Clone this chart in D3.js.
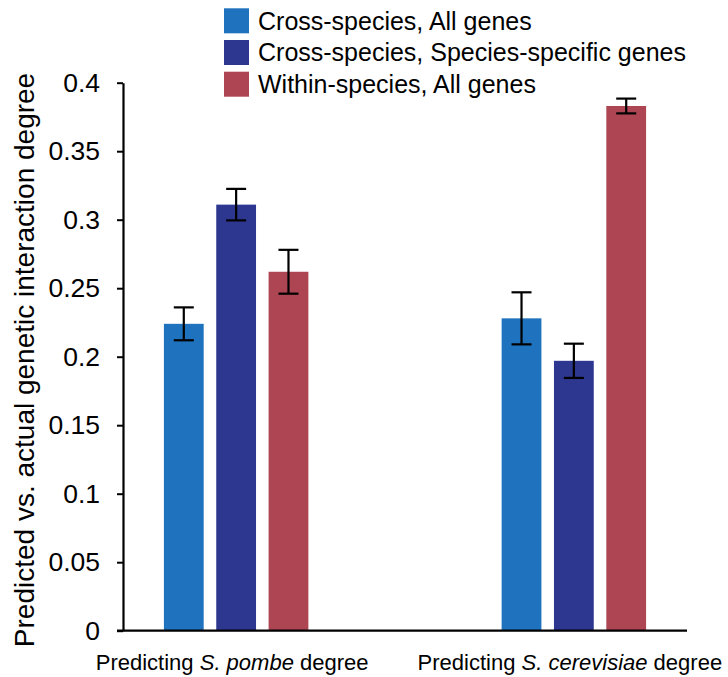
<!DOCTYPE html>
<html>
<head>
<meta charset="utf-8">
<script src="https://cdn.jsdelivr.net/npm/d3@7/dist/d3.min.js"></script>
<style>
  html, body { margin: 0; padding: 0; background: #ffffff; }
  svg { display: block; font-family: "Liberation Sans", Arial, sans-serif; }
</style>
</head>
<body>
<svg id="chart" width="728" height="677"></svg>
<script>
// Groups along the x axis and their label pieces (middle piece is italic)
const categories = ["pombe", "cerevisiae"];
const categoryLabels = [
  ["Predicting ", "S. pombe", " degree"],
  ["Predicting ", "S. cerevisiae", " degree"]
];

// Series names, shown in the legend
const seriesNames = [
  "Cross-species, All genes",
  "Cross-species, Species-specific genes",
  "Within-species, All genes"
];
const seriesColors = ["#1f72bd", "#2d3790", "#ae4553"];

// Mean values per series, one per group
const crossAllValues      = [0.224, 0.228];
const crossSpecificValues = [0.311, 0.197];
const withinValues        = [0.262, 0.383];

// Error bar half-widths per series
const crossAllErrors      = [0.012, 0.019];
const crossSpecificErrors = [0.0115, 0.0125];
const withinErrors        = [0.016, 0.0054];

// Y axis ticks
const yTickValues = [0, 0.05, 0.1, 0.15, 0.2, 0.25, 0.3, 0.35, 0.4];
const yTickLabels = ["0", "0.05", "0.1", "0.15", "0.2", "0.25", "0.3", "0.35", "0.4"];

const seriesValues = [crossAllValues, crossSpecificValues, withinValues];
const seriesErrors = [crossAllErrors, crossSpecificErrors, withinErrors];

const rows = [];
categories.forEach((c, ci) => {
  seriesNames.forEach((s, si) => {
    rows.push({ category: c, series: s, value: seriesValues[si][ci], err: seriesErrors[si][ci], color: seriesColors[si] });
  });
});

const svg = d3.select("#chart");

const y = d3.scaleLinear().domain([0, 0.4]).range([630.7, 82.7]);

const x0 = d3.scaleBand()
  .domain(categories)
  .range([123, 687])
  .paddingInner(0.5)
  .paddingOuter(0.085);

const x1 = d3.scaleBand()
  .domain(seriesNames)
  .range([0, x0.bandwidth()])
  .paddingInner(0.24)
  .paddingOuter(0.233);

// Bars
svg.append("g")
  .selectAll("rect")
  .data(rows)
  .join("rect")
  .attr("x", d => x0(d.category) + x1(d.series))
  .attr("y", d => y(d.value))
  .attr("width", x1.bandwidth())
  .attr("height", d => y(0) - y(d.value))
  .attr("fill", d => d.color);

// Error bars
const eb = svg.append("g")
  .attr("stroke", "#000")
  .attr("stroke-width", 2.2)
  .selectAll("g")
  .data(rows)
  .join("g")
  .attr("transform", d => `translate(${x0(d.category) + x1(d.series) + x1.bandwidth() / 2},0)`);
const capHalf = 10;
eb.append("line")
  .attr("x1", 0).attr("x2", 0)
  .attr("y1", d => y(d.value + d.err))
  .attr("y2", d => y(d.value - d.err));
eb.append("line")
  .attr("x1", -capHalf).attr("x2", capHalf)
  .attr("y1", d => y(d.value + d.err)).attr("y2", d => y(d.value + d.err));
eb.append("line")
  .attr("x1", -capHalf).attr("x2", capHalf)
  .attr("y1", d => y(d.value - d.err)).attr("y2", d => y(d.value - d.err));

// Y axis
const yAxis = svg.append("g")
  .attr("transform", "translate(123,0)")
  .call(d3.axisLeft(y)
    .tickValues(yTickValues)
    .tickFormat((d, i) => yTickLabels[i])
    .tickSize(6)
    .tickSizeOuter(0)
    .tickPadding(17));
yAxis.attr("font-size", null).attr("font-family", null);
yAxis.select(".domain").attr("stroke-width", 2.2);
yAxis.selectAll(".tick line").attr("stroke-width", 2);
yAxis.selectAll(".tick text")
  .style("font-size", "26.5px")
  .attr("fill", "#000");

// X axis baseline
svg.append("line")
  .attr("x1", 117).attr("x2", x0.range()[1])
  .attr("y1", y(0)).attr("y2", y(0))
  .attr("stroke", "#000")
  .attr("stroke-width", 2.2);

// Category labels
svg.append("g")
  .selectAll("text")
  .data(categories)
  .join("text")
  .attr("x", d => x0(d) + x0.bandwidth() / 2 - 4)
  .attr("y", 670)
  .attr("text-anchor", "middle")
  .attr("font-size", 22)
  .attr("fill", "#000")
  .each(function(d, i) {
    const t = d3.select(this);
    categoryLabels[i].forEach((part, pi) => {
      t.append("tspan")
        .attr("font-style", pi === 1 ? "italic" : "normal")
        .text(part);
    });
  });

// Y axis title
svg.append("text")
  .attr("transform", "translate(34,360) rotate(-90)")
  .attr("text-anchor", "middle")
  .attr("font-size", 28)
  .attr("fill", "#000")
  .text("Predicted vs. actual genetic interaction degree");

// Legend
const legend = svg.append("g")
  .selectAll("g")
  .data(seriesNames)
  .join("g")
  .attr("transform", (d, i) => `translate(224,${8.3 + i * 31.7})`);
legend.append("rect")
  .attr("width", 25).attr("height", 25)
  .attr("fill", (d, i) => seriesColors[i]);
legend.append("text")
  .attr("x", 34)
  .attr("y", 12.5)
  .attr("dy", "0.35em")
  .attr("font-size", 25)
  .attr("fill", "#000")
  .text(d => d);
</script>
</body>
</html>
